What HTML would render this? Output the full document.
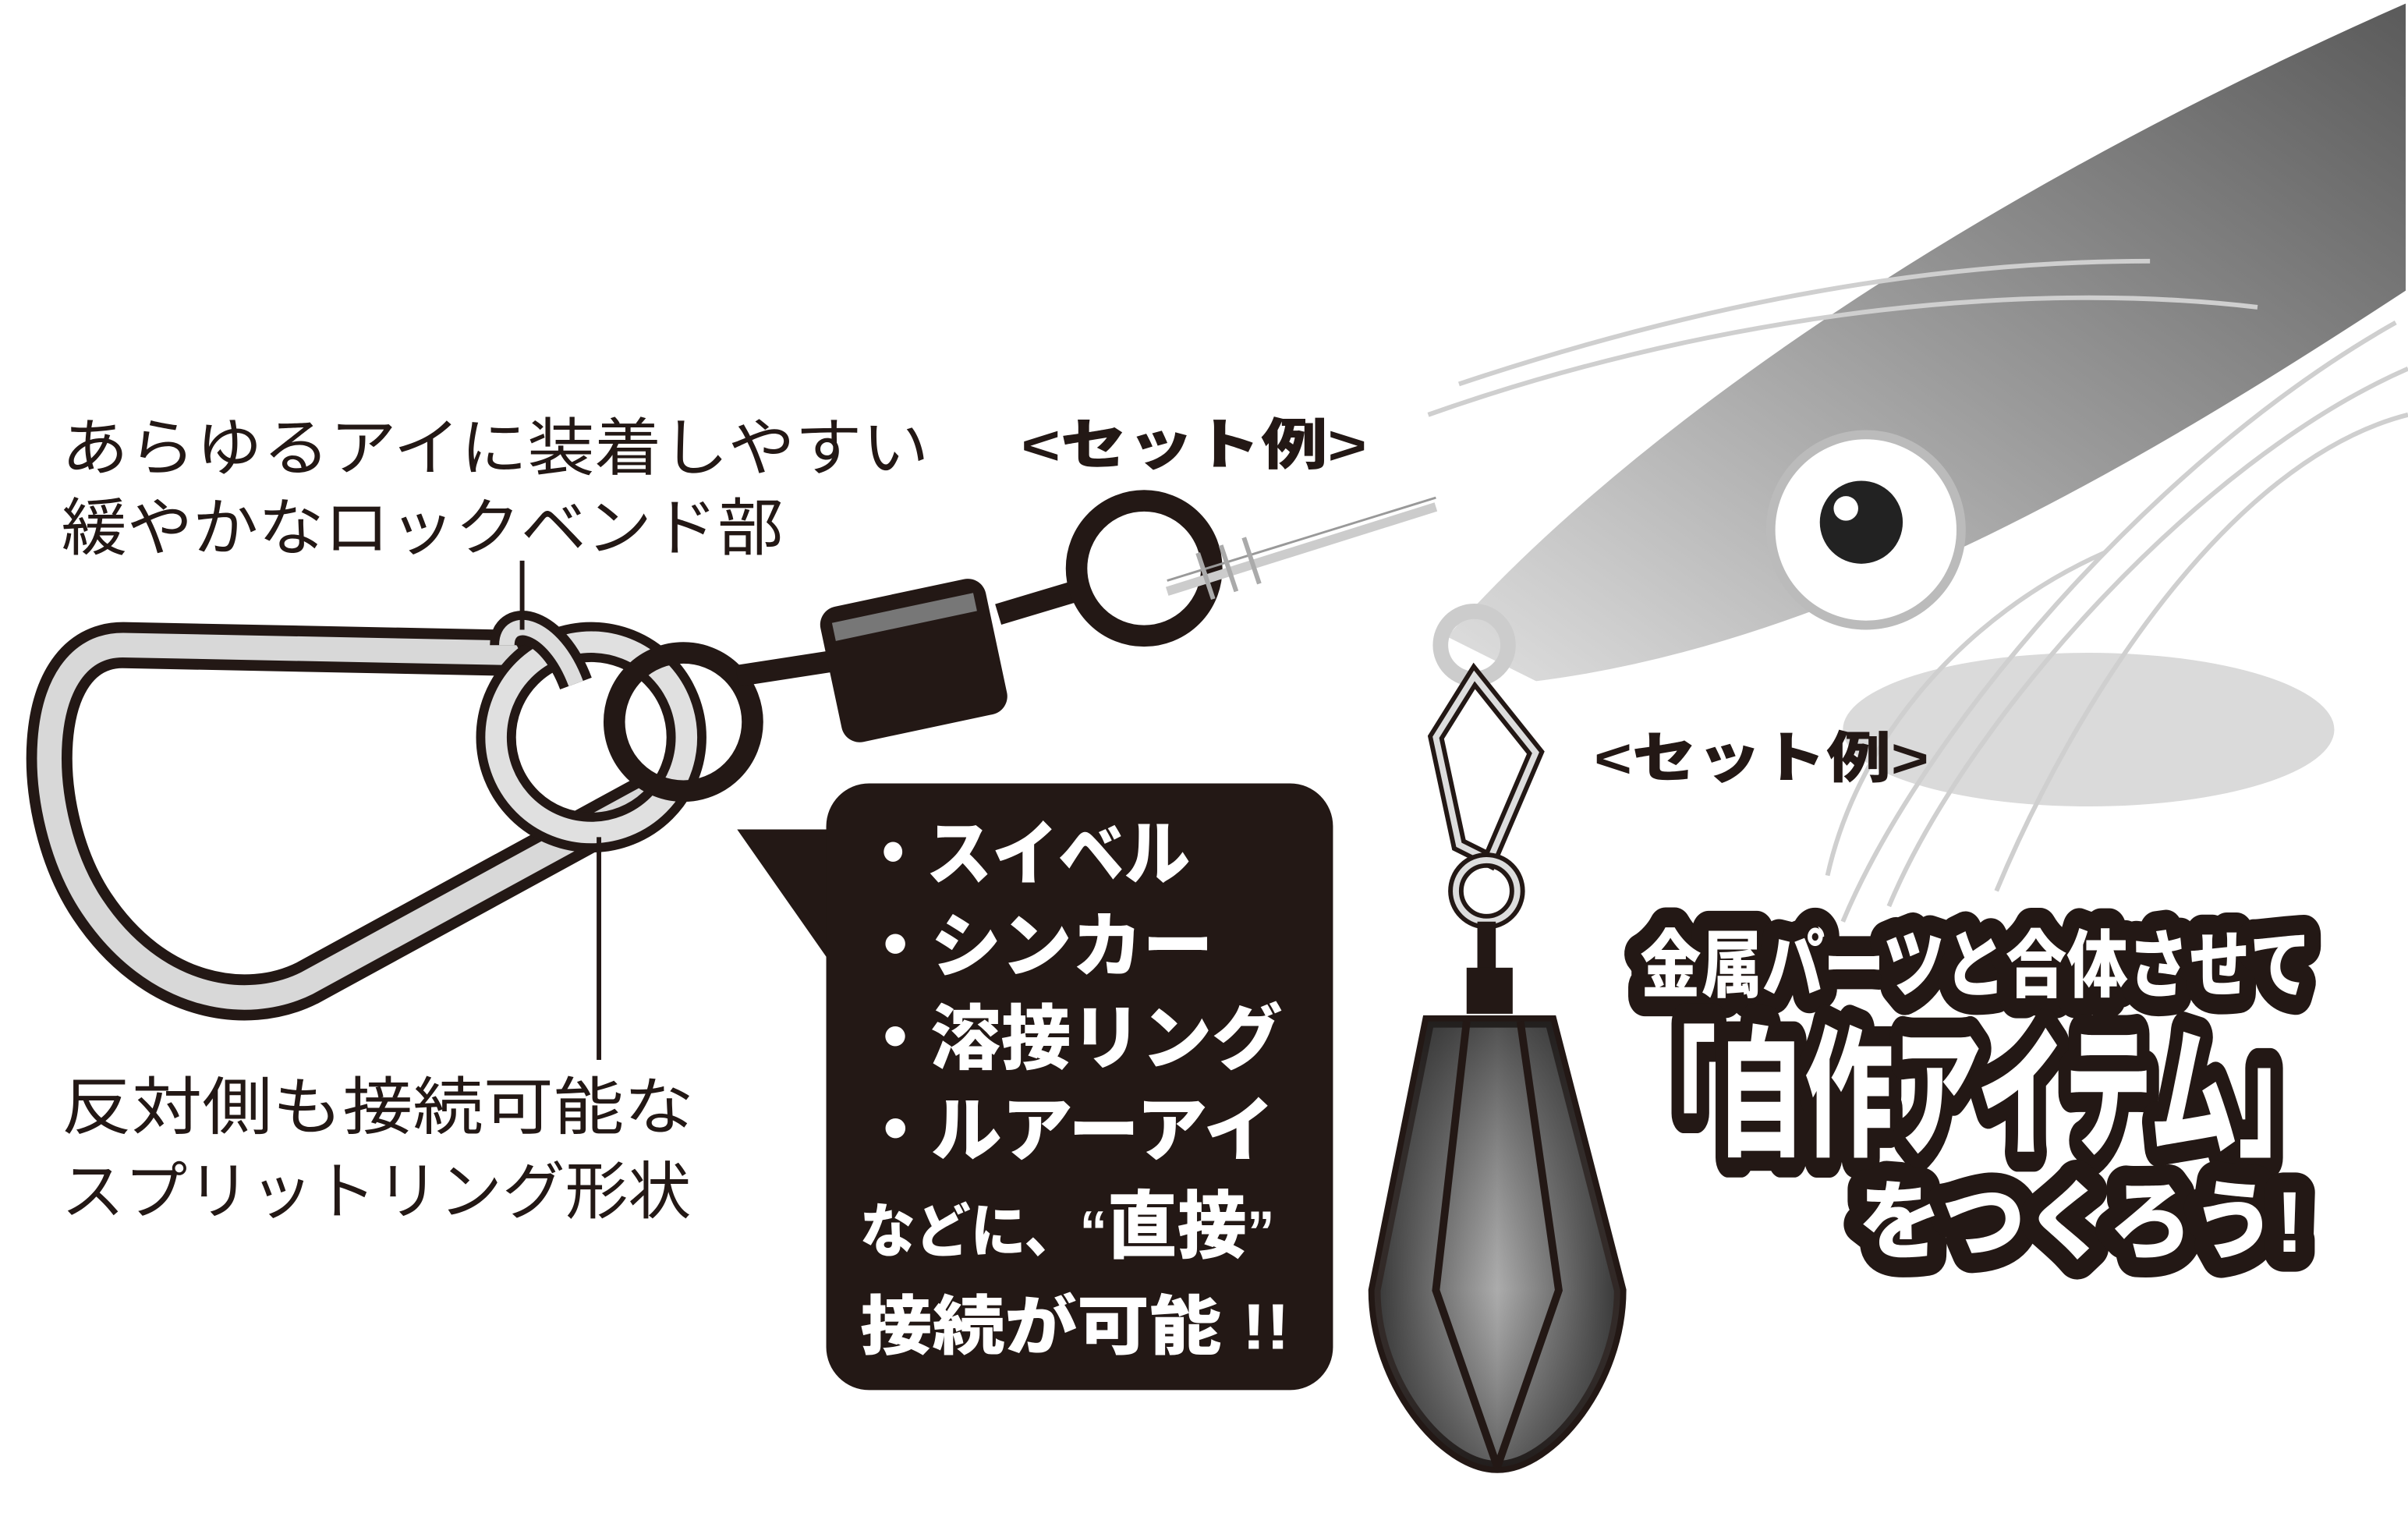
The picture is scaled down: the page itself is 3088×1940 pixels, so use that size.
<!DOCTYPE html>
<html><head><meta charset="utf-8"><style>
html,body{margin:0;padding:0;background:#fff}
svg{display:block}
text{font-family:"Liberation Sans","Noto Sans CJK JP",sans-serif}
.b{font-weight:900}
</style></head><body>
<svg width="3088" height="1940" viewBox="0 0 1568 985" preserveAspectRatio="none" xmlns="http://www.w3.org/2000/svg">
<defs>
<linearGradient id="fish" x1="1" y1="0" x2="0" y2="1">
<stop offset="0" stop-color="#5a5a5a"/><stop offset="0.5" stop-color="#9a9a9a"/><stop offset="1" stop-color="#e0e0e0"/></linearGradient>
<linearGradient id="sink" x1="0" y1="0" x2="1" y2="0">
<stop offset="0" stop-color="#2a2a2a"/><stop offset="0.5" stop-color="#bdbdbd"/><stop offset="1" stop-color="#2a2a2a"/></linearGradient>
<linearGradient id="sinkv" x1="0" y1="0" x2="0" y2="1">
<stop offset="0" stop-color="#222" stop-opacity="0.7"/><stop offset="0.6" stop-color="#666" stop-opacity="0.2"/><stop offset="1" stop-color="#222" stop-opacity="0.6"/></linearGradient>
</defs>
<!-- fish -->
<ellipse cx="1360" cy="475" rx="160" ry="50" fill="#dadada"/>
<path d="M940 415 C1040 300 1250 140 1568 0 L1568 190 C1400 300 1200 420 1000 445 Z" fill="url(#fish)" stroke="#fff" stroke-width="3"/>
<g stroke="#cfcfcf" stroke-width="3" fill="none">
<path d="M930 270 C1100 210 1300 180 1470 200"/><path d="M950 250 C1100 200 1250 170 1400 170"/>
<path d="M1200 600 C1250 480 1400 300 1560 210"/><path d="M1230 590 C1280 470 1430 300 1568 240"/>
<path d="M1300 580 C1350 460 1450 300 1568 270"/><path d="M1190 570 C1210 480 1280 400 1370 360"/>
</g>
<circle cx="1215" cy="345" r="62" fill="#fff" stroke="#bbb" stroke-width="6"/>
<circle cx="1212" cy="340" r="27" fill="#222"/><circle cx="1202" cy="331" r="8" fill="#fff"/>
<circle cx="960" cy="420" r="22" fill="none" stroke="#ccc" stroke-width="10"/>
<!-- texts -->
<text x="40" y="306" font-size="41" fill="#231815" textLength="565" lengthAdjust="spacingAndGlyphs">あらゆるアイに装着しやすい</text>
<text x="40" y="358" font-size="41" fill="#231815" textLength="470" lengthAdjust="spacingAndGlyphs">緩やかなロックベンド部</text>
<text x="40" y="735" font-size="41" fill="#231815" textLength="412" lengthAdjust="spacingAndGlyphs">反対側も接続可能な</text>
<text x="40" y="790" font-size="41" fill="#231815" textLength="410" lengthAdjust="spacingAndGlyphs">スプリットリング形状</text>
<text x="665" y="302" font-size="36" class="b" fill="#231815" textLength="225" lengthAdjust="spacingAndGlyphs">&lt;セット例&gt;</text>
<text x="1038" y="506" font-size="36" class="b" fill="#231815" textLength="218" lengthAdjust="spacingAndGlyphs">&lt;セット例&gt;</text>
<!-- carabiner -->
<path d="M330 425 L80 420 C20 420 20 530 60 590 C100 650 160 660 200 640 L420 520" fill="none" stroke="#231815" stroke-width="30" stroke-linecap="round"/>
<path d="M330 425 L80 420 C20 420 20 530 60 590 C100 650 160 660 200 640 L420 520" fill="none" stroke="#d8d8d8" stroke-width="16" stroke-linecap="round"/>
<circle cx="385" cy="480" r="62" fill="none" stroke="#231815" stroke-width="26"/>
<circle cx="385" cy="480" r="62" fill="none" stroke="#e0e0e0" stroke-width="14"/>
<path d="M330 420 C330 400 360 405 375 445" fill="none" stroke="#231815" stroke-width="22"/>
<path d="M330 420 C330 400 360 405 375 445" fill="none" stroke="#ddd" stroke-width="10"/>
<circle cx="445" cy="470" r="45" fill="none" stroke="#231815" stroke-width="14"/>
<line x1="340" y1="365" x2="340" y2="410" stroke="#231815" stroke-width="3"/>
<line x1="390" y1="545" x2="390" y2="690" stroke="#231815" stroke-width="3"/>
<!-- swivel -->
<path d="M480 440 L545 430" stroke="#231815" stroke-width="14"/>
<path d="M650 400 L700 385" stroke="#231815" stroke-width="14"/>
<g transform="rotate(-12 595 430)"><rect x="540" y="385" width="110" height="90" rx="12" fill="#231815"/><rect x="548" y="395" width="94" height="12" fill="#777"/></g>
<circle cx="745" cy="370" r="44" fill="none" stroke="#231815" stroke-width="14"/>
<path d="M760 385 L935 330" stroke="#ccc" stroke-width="6"/>
<path d="M760 378 L935 324" stroke="#999" stroke-width="1.5"/>
<path d="M780 360 l10 30 M795 355 l10 30 M810 350 l10 30" stroke="#aaa" stroke-width="3"/>
<!-- bubble -->
<path d="M540 540 L480 540 L550 640 Z" fill="#231815"/>
<rect x="538" y="510" width="330" height="395" rx="28" fill="#231815"/>
<g fill="#fff">
<text x="560" y="572" font-size="46" class="b" textLength="215" lengthAdjust="spacingAndGlyphs">・スイベル</text>
<text x="560" y="632" font-size="46" class="b" textLength="230" lengthAdjust="spacingAndGlyphs">・シンカー</text>
<text x="560" y="692" font-size="46" class="b" textLength="275" lengthAdjust="spacingAndGlyphs">・溶接リング</text>
<text x="560" y="752" font-size="46" class="b" textLength="270" lengthAdjust="spacingAndGlyphs">・ルアーアイ</text>
<text x="560" y="815" font-size="38" class="b" textLength="270" lengthAdjust="spacingAndGlyphs">などに、“<tspan font-size="48">直接</tspan>”</text>
<text x="560" y="878" font-size="42" class="b" textLength="280" lengthAdjust="spacingAndGlyphs">接続が可能 !!</text>
</g>
<!-- snap + sinker -->
<path d="M960 440 L935 480 L950 550 L970 560 L1000 490 Z" fill="none" stroke="#231815" stroke-width="10"/>
<path d="M960 440 L935 480 L950 550 L970 560 L1000 490 Z" fill="none" stroke="#ddd" stroke-width="4"/>
<circle cx="968" cy="580" r="20" fill="none" stroke="#231815" stroke-width="10"/>
<circle cx="968" cy="580" r="20" fill="none" stroke="#ddd" stroke-width="4"/>
<path d="M968 600 L968 640" stroke="#231815" stroke-width="12"/>
<rect x="955" y="630" width="30" height="30" fill="#231815"/>
<path d="M930 665 L1010 665 L1055 840 C1055 900 1010 955 975 955 C940 955 895 900 895 840 Z" fill="url(#sink)" stroke="#231815" stroke-width="8"/>
<path d="M930 665 L1010 665 L1055 840 C1055 900 1010 955 975 955 C940 955 895 900 895 840 Z" fill="url(#sinkv)"/>
<path d="M955 665 L935 840 L975 955 M990 665 L1015 840 L975 955" fill="none" stroke="#231815" stroke-width="5"/>
<!-- big slogan -->
<g font-weight="900" stroke-linejoin="round">
<g stroke="#231815" stroke-width="26" fill="#231815">
<text x="1068" y="645" font-size="48" textLength="437" lengthAdjust="spacingAndGlyphs">金属パーツと合体させて</text>
<text x="1060" y="745" font-size="92" textLength="455" lengthAdjust="spacingAndGlyphs">「自作アイテム」</text>
<text x="1210" y="815" font-size="56" textLength="290" lengthAdjust="spacingAndGlyphs">をつくろう!</text>
</g>
<g fill="#fff">
<text x="1068" y="645" font-size="48" textLength="437" lengthAdjust="spacingAndGlyphs">金属パーツと合体させて</text>
<text x="1060" y="745" font-size="92" textLength="455" lengthAdjust="spacingAndGlyphs">「自作アイテム」</text>
<text x="1210" y="815" font-size="56" textLength="290" lengthAdjust="spacingAndGlyphs">をつくろう!</text>
</g></g>
</svg>
</body></html>
